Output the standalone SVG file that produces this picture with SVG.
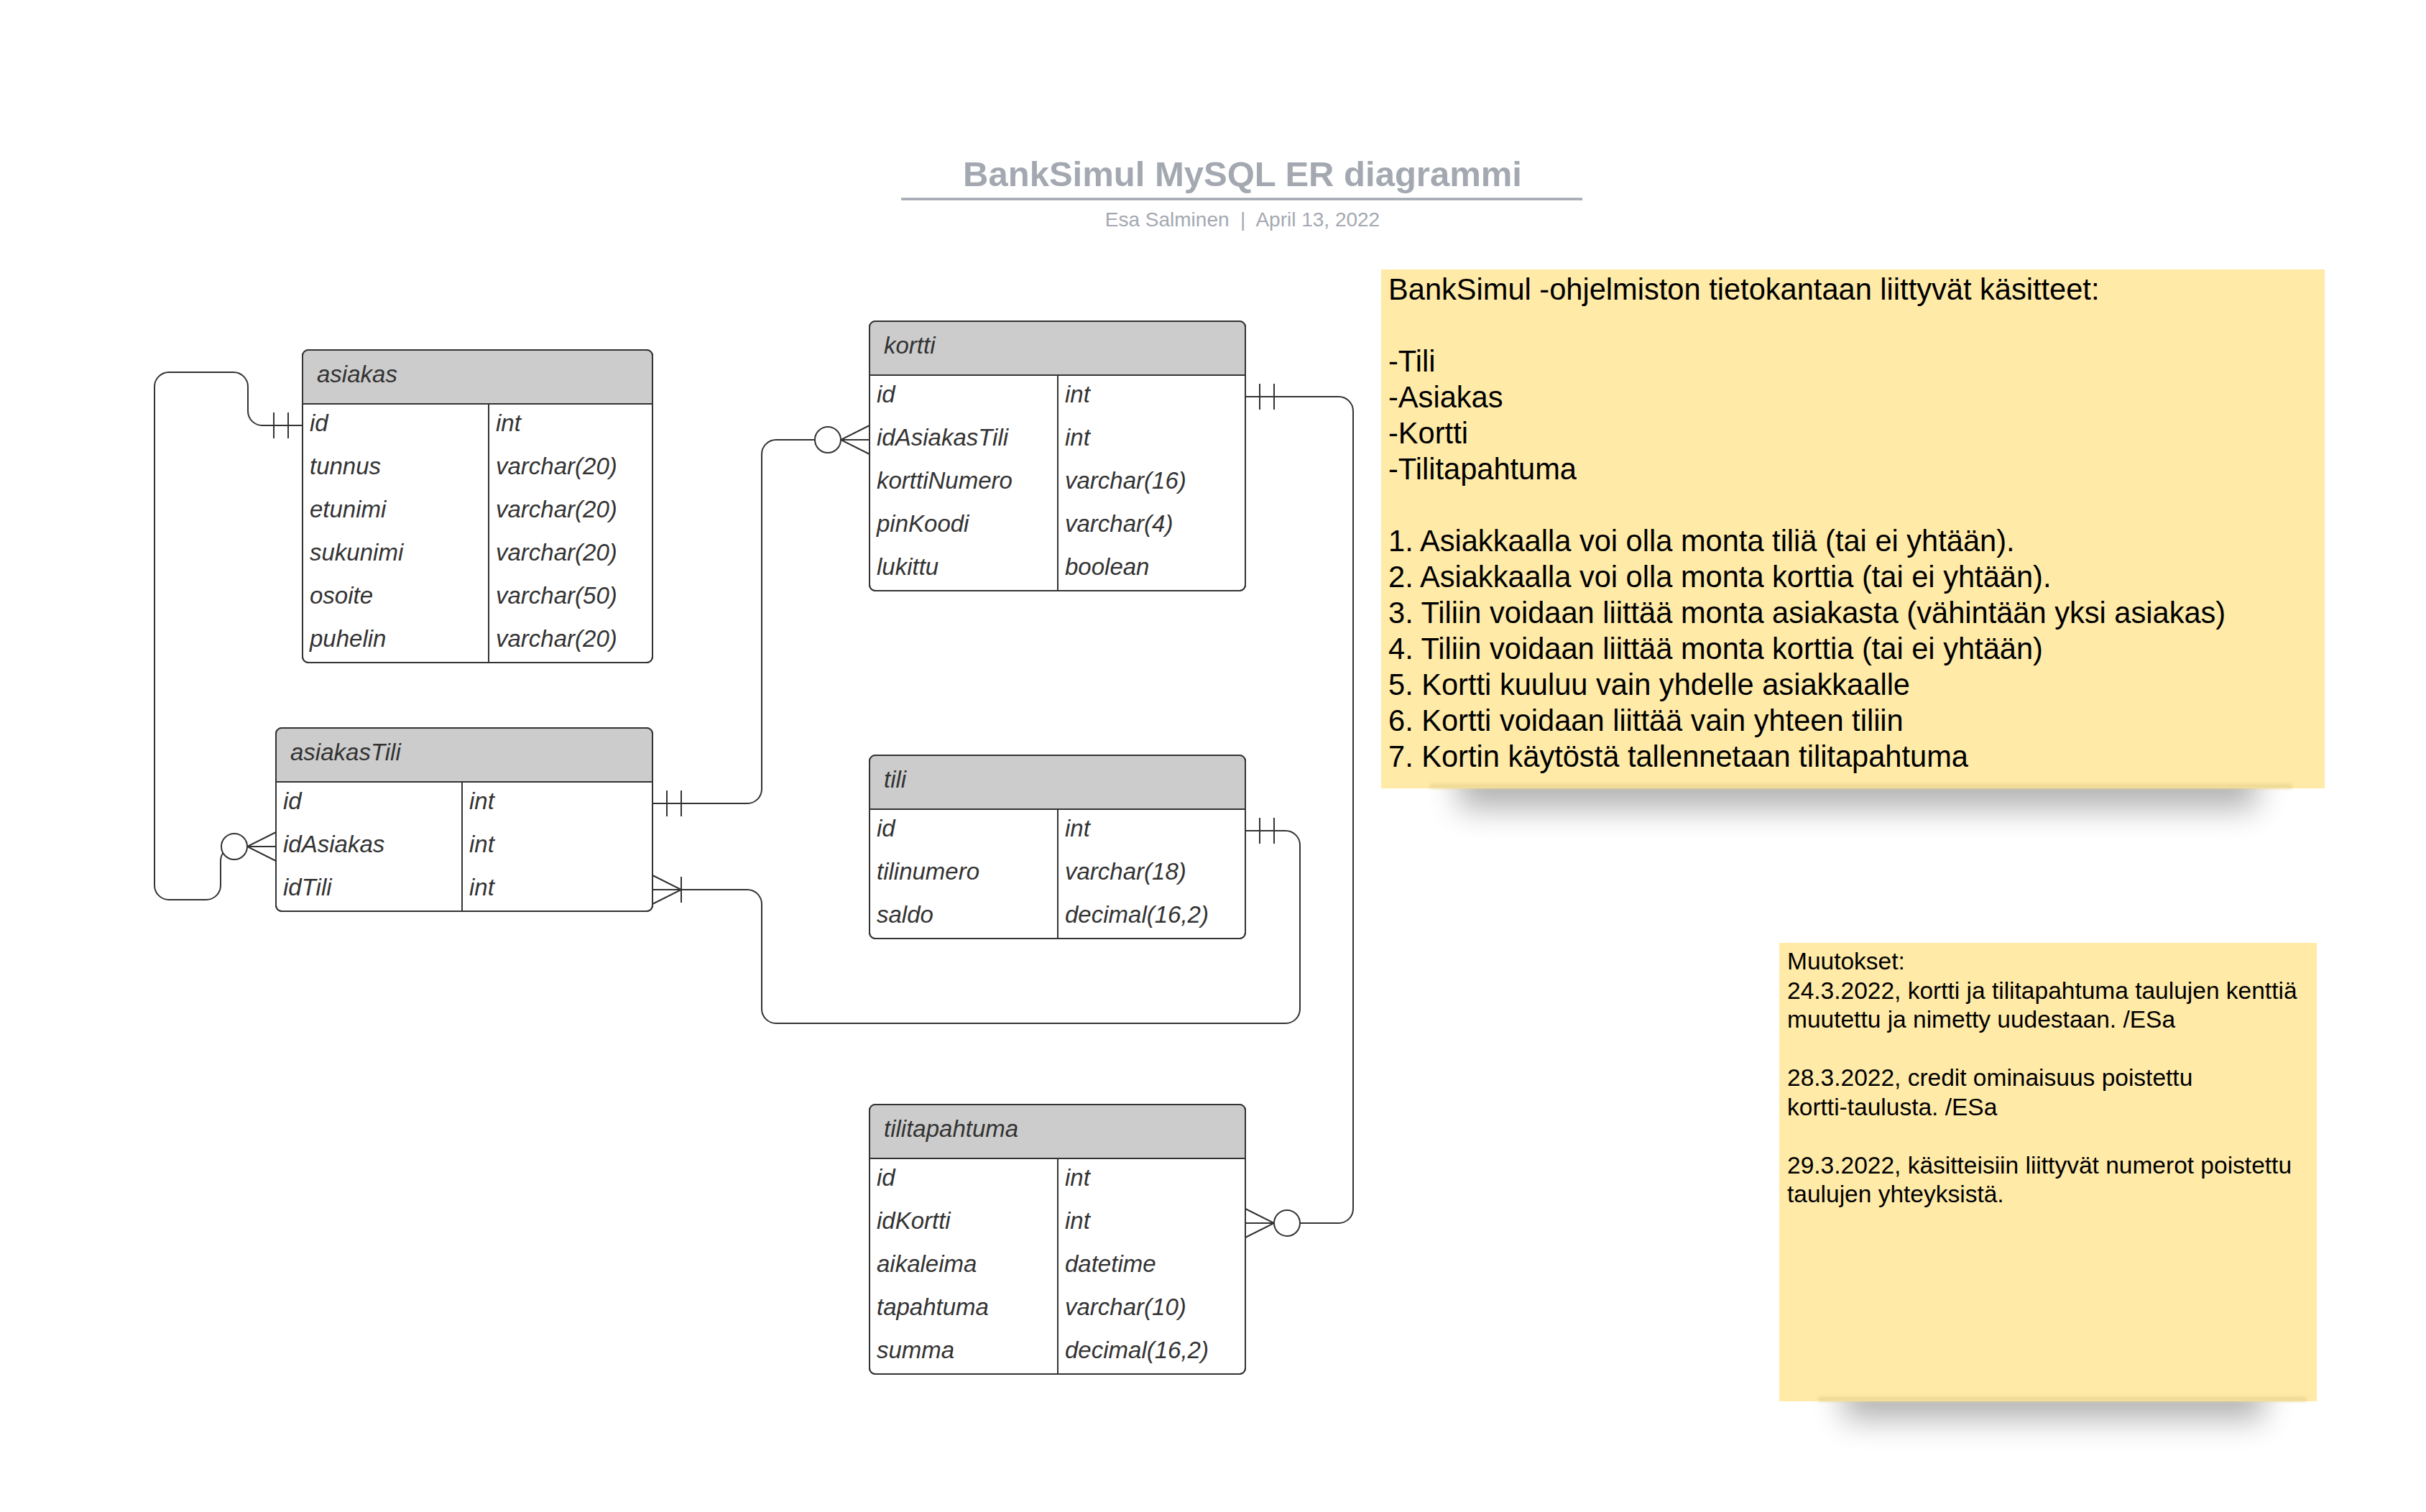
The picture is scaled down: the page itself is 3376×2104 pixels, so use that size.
<svg xmlns="http://www.w3.org/2000/svg" xmlns:xlink="http://www.w3.org/1999/xlink" width="3376" height="2104" viewBox="0 0 3376 2104">
<defs>
<style>
.box{fill:#fff;stroke:#333;stroke-width:2}
.frame{fill:none;stroke:#333;stroke-width:2}
.hdr{fill:#ccc}
.sep{stroke:#333;stroke-width:2}
.t{font-family:"Liberation Sans",Arial,sans-serif;font-size:33px;font-style:italic;fill:#333}
.conn{fill:none;stroke:#333;stroke-width:2}
.note{fill:#ffeaa7}
.shadow{fill:#000;opacity:0.3}
.edge{fill:#e9d390;opacity:0.8}
.n1{font-family:"Liberation Sans",Arial,sans-serif;font-size:41.6px;fill:#000}
.n2{font-family:"Liberation Sans",Arial,sans-serif;font-size:33.5px;fill:#000}
.title{font-family:"Liberation Sans",Arial,sans-serif;font-size:49px;font-weight:bold;fill:#a3a8b1}
.sub{font-family:"Liberation Sans",Arial,sans-serif;font-size:28px;fill:#a3a8b1;white-space:pre}
</style>
<filter id="blur" x="-30%" y="-300%" width="160%" height="700%"><feGaussianBlur stdDeviation="22"/></filter>
<filter id="blurS" x="-10%" y="-300%" width="120%" height="700%"><feGaussianBlur stdDeviation="2"/></filter>
<g id="mOne" fill="none" stroke="#333" stroke-width="2"><path d="M-20,-18V18M-40,-18V18"/></g>
<g id="mZeroMany" stroke="#333" stroke-width="2"><path fill="none" d="M0,-20L-40,0L0,20"/><circle cx="-58" cy="0" r="18" fill="#fff"/></g>
<g id="mOneMany" fill="none" stroke="#333" stroke-width="2"><path d="M0,-20L-40,0L0,20M-40,-18V18"/></g>
</defs>
<rect width="3376" height="2104" fill="#fff"/>

<g id="title">
<text class="title" x="1729" y="259" text-anchor="middle">BankSimul MySQL ER diagrammi</text>
<line x1="1254" y1="277" x2="2202" y2="277" stroke="#a3a8b1" stroke-width="3.5"/>
<text class="sub" x="1729" y="315" text-anchor="middle">Esa Salminen  |  April 13, 2022</text>
</g>

<g id="connectors">
<path class="conn" d="M421,592 H365 A20,20 0 0 1 345,572 V538 A20,20 0 0 0 325,518 H235 A20,20 0 0 0 215,538 V1232 A20,20 0 0 0 235,1252 H287 A20,20 0 0 0 307,1232 V1198 A20,20 0 0 1 327,1178 H384"/>
<path class="conn" d="M908,1118 H1040 A20,20 0 0 0 1060,1098 V632 A20,20 0 0 1 1080,612 H1210"/>
<path class="conn" d="M1733,552 H1863 A20,20 0 0 1 1883,572 V1682 A20,20 0 0 1 1863,1702 H1733"/>
<path class="conn" d="M1733,1156 H1789 A20,20 0 0 1 1809,1176 V1404 A20,20 0 0 1 1789,1424 H1080 A20,20 0 0 1 1060,1404 V1258 A20,20 0 0 0 1040,1238 H908"/>
<use xlink:href="#mOne" transform="translate(421,592)"/>
<use xlink:href="#mZeroMany" transform="translate(384,1178)"/>
<use xlink:href="#mOne" transform="translate(908,1118) scale(-1,1)"/>
<use xlink:href="#mZeroMany" transform="translate(1210,612)"/>
<use xlink:href="#mOne" transform="translate(1733,552) scale(-1,1)"/>
<use xlink:href="#mZeroMany" transform="translate(1733,1702) scale(-1,1)"/>
<use xlink:href="#mOne" transform="translate(1733,1156) scale(-1,1)"/>
<use xlink:href="#mOneMany" transform="translate(908,1238) scale(-1,1)"/>
</g>

<g id="asiakas">
<rect class="box" x="421" y="487" width="487" height="435" rx="8"/>
<path class="hdr" d="M421,562 V495 Q421,487 429,487 H900 Q908,487 908,495 V562 Z"/>
<line class="sep" x1="421" y1="562" x2="908" y2="562"/>
<line class="sep" x1="680" y1="562" x2="680" y2="922"/>
<rect class="frame" x="421" y="487" width="487" height="435" rx="8"/>
<text class="t" x="441" y="532">asiakas</text>
<text class="t" x="431" y="600">id</text><text class="t" x="690" y="600">int</text>
<text class="t" x="431" y="660">tunnus</text><text class="t" x="690" y="660">varchar(20)</text>
<text class="t" x="431" y="720">etunimi</text><text class="t" x="690" y="720">varchar(20)</text>
<text class="t" x="431" y="780">sukunimi</text><text class="t" x="690" y="780">varchar(20)</text>
<text class="t" x="431" y="840">osoite</text><text class="t" x="690" y="840">varchar(50)</text>
<text class="t" x="431" y="900">puhelin</text><text class="t" x="690" y="900">varchar(20)</text>
</g>

<g id="asiakasTili">
<rect class="box" x="384" y="1013" width="524" height="255" rx="8"/>
<path class="hdr" d="M384,1088 V1021 Q384,1013 392,1013 H900 Q908,1013 908,1021 V1088 Z"/>
<line class="sep" x1="384" y1="1088" x2="908" y2="1088"/>
<line class="sep" x1="643" y1="1088" x2="643" y2="1268"/>
<rect class="frame" x="384" y="1013" width="524" height="255" rx="8"/>
<text class="t" x="404" y="1058">asiakasTili</text>
<text class="t" x="394" y="1126">id</text><text class="t" x="653" y="1126">int</text>
<text class="t" x="394" y="1186">idAsiakas</text><text class="t" x="653" y="1186">int</text>
<text class="t" x="394" y="1246">idTili</text><text class="t" x="653" y="1246">int</text>
</g>

<g id="kortti">
<rect class="box" x="1210" y="447" width="523" height="375" rx="8"/>
<path class="hdr" d="M1210,522 V455 Q1210,447 1218,447 H1725 Q1733,447 1733,455 V522 Z"/>
<line class="sep" x1="1210" y1="522" x2="1733" y2="522"/>
<line class="sep" x1="1472" y1="522" x2="1472" y2="822"/>
<rect class="frame" x="1210" y="447" width="523" height="375" rx="8"/>
<text class="t" x="1230" y="492">kortti</text>
<text class="t" x="1220" y="560">id</text><text class="t" x="1482" y="560">int</text>
<text class="t" x="1220" y="620">idAsiakasTili</text><text class="t" x="1482" y="620">int</text>
<text class="t" x="1220" y="680">korttiNumero</text><text class="t" x="1482" y="680">varchar(16)</text>
<text class="t" x="1220" y="740">pinKoodi</text><text class="t" x="1482" y="740">varchar(4)</text>
<text class="t" x="1220" y="800">lukittu</text><text class="t" x="1482" y="800">boolean</text>
</g>

<g id="tili">
<rect class="box" x="1210" y="1051" width="523" height="255" rx="8"/>
<path class="hdr" d="M1210,1126 V1059 Q1210,1051 1218,1051 H1725 Q1733,1051 1733,1059 V1126 Z"/>
<line class="sep" x1="1210" y1="1126" x2="1733" y2="1126"/>
<line class="sep" x1="1472" y1="1126" x2="1472" y2="1306"/>
<rect class="frame" x="1210" y="1051" width="523" height="255" rx="8"/>
<text class="t" x="1230" y="1096">tili</text>
<text class="t" x="1220" y="1164">id</text><text class="t" x="1482" y="1164">int</text>
<text class="t" x="1220" y="1224">tilinumero</text><text class="t" x="1482" y="1224">varchar(18)</text>
<text class="t" x="1220" y="1284">saldo</text><text class="t" x="1482" y="1284">decimal(16,2)</text>
</g>

<g id="tilitapahtuma">
<rect class="box" x="1210" y="1537" width="523" height="375" rx="8"/>
<path class="hdr" d="M1210,1612 V1545 Q1210,1537 1218,1537 H1725 Q1733,1537 1733,1545 V1612 Z"/>
<line class="sep" x1="1210" y1="1612" x2="1733" y2="1612"/>
<line class="sep" x1="1472" y1="1612" x2="1472" y2="1912"/>
<rect class="frame" x="1210" y="1537" width="523" height="375" rx="8"/>
<text class="t" x="1230" y="1582">tilitapahtuma</text>
<text class="t" x="1220" y="1650">id</text><text class="t" x="1482" y="1650">int</text>
<text class="t" x="1220" y="1710">idKortti</text><text class="t" x="1482" y="1710">int</text>
<text class="t" x="1220" y="1770">aikaleima</text><text class="t" x="1482" y="1770">datetime</text>
<text class="t" x="1220" y="1830">tapahtuma</text><text class="t" x="1482" y="1830">varchar(10)</text>
<text class="t" x="1220" y="1890">summa</text><text class="t" x="1482" y="1890">decimal(16,2)</text>
</g>

<g id="note-kasitteet">
<rect class="shadow" x="2030" y="1055" width="1110" height="70" filter="url(#blur)"/>
<rect class="note" x="1922" y="375" width="1313" height="722"/>
<rect class="edge" x="1990" y="1091" width="1200" height="6" filter="url(#blurS)"/>
<text class="n1" x="1932" y="417">BankSimul -ohjelmiston tietokantaan liittyvät käsitteet:</text>
<text class="n1" x="1932" y="517">-Tili</text>
<text class="n1" x="1932" y="567">-Asiakas</text>
<text class="n1" x="1932" y="617">-Kortti</text>
<text class="n1" x="1932" y="667">-Tilitapahtuma</text>
<text class="n1" x="1932" y="767">1. Asiakkaalla voi olla monta tiliä (tai ei yhtään).</text>
<text class="n1" x="1932" y="817">2. Asiakkaalla voi olla monta korttia (tai ei yhtään).</text>
<text class="n1" x="1932" y="867">3. Tiliin voidaan liittää monta asiakasta (vähintään yksi asiakas)</text>
<text class="n1" x="1932" y="917">4. Tiliin voidaan liittää monta korttia (tai ei yhtään)</text>
<text class="n1" x="1932" y="967">5. Kortti kuuluu vain yhdelle asiakkaalle</text>
<text class="n1" x="1932" y="1017">6. Kortti voidaan liittää vain yhteen tiliin</text>
<text class="n1" x="1932" y="1067">7. Kortin käytöstä tallennetaan tilitapahtuma</text>
</g>

<g id="note-muutokset">
<rect class="shadow" x="2565" y="1910" width="585" height="65" filter="url(#blur)"/>
<rect class="note" x="2476" y="1312" width="748" height="638"/>
<rect class="edge" x="2530" y="1944" width="680" height="6" filter="url(#blurS)"/>
<text class="n2" x="2487" y="1349">Muutokset:</text>
<text class="n2" x="2487" y="1389.5">24.3.2022, kortti ja tilitapahtuma taulujen kenttiä</text>
<text class="n2" x="2487" y="1430">muutettu ja nimetty uudestaan. /ESa</text>
<text class="n2" x="2487" y="1511">28.3.2022, credit ominaisuus poistettu</text>
<text class="n2" x="2487" y="1551.5">kortti-taulusta. /ESa</text>
<text class="n2" x="2487" y="1632.5">29.3.2022, käsitteisiin liittyvät numerot poistettu</text>
<text class="n2" x="2487" y="1673">taulujen yhteyksistä.</text>
</g>
</svg>
